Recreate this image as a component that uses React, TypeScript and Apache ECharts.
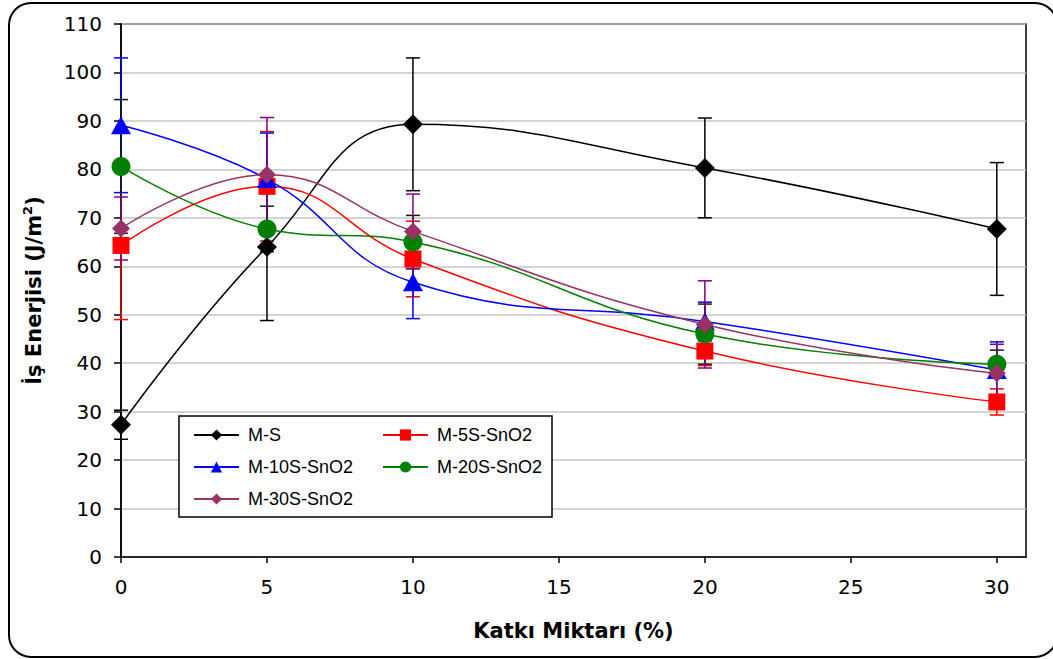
import React, { useEffect, useRef } from "react";
import * as echarts from "echarts";

const xValues = [0, 5, 10, 20, 30];
const xTicks = [0, 5, 10, 15, 20, 25, 30];

const msVals = [27.3, 64.0, 89.3, 80.3, 67.7];
const msErr = [3.0, 15.2, 13.7, 10.3, 13.7];
const m5Vals = [64.3, 76.5, 61.5, 42.5, 32.0];
const m5Err = [15.3, 11.3, 7.8, 3.0, 2.7];
const m10Vals = [89.1, 78.0, 56.7, 48.6, 38.6];
const m10Err = [13.9, 9.5, 7.5, 4.0, 5.8];
const m20Vals = [80.6, 67.7, 65.0, 46.0, 39.8];
const m20Err = [13.8, 4.7, 5.5, 6.2, 2.9];
const m30Vals = [67.8, 78.9, 67.2, 48.0, 37.9];
const m30Err = [6.5, 11.8, 7.7, 9.0, 6.0];

const seriesDefs = [
  { name: "M-S", vals: msVals, err: msErr, color: "#000000", errColor: "#000000", symbol: "diamond", size: [20, 20] },
  { name: "M-5S-SnO2", vals: m5Vals, err: m5Err, color: "#ff0000", errColor: "#ff0000", symbol: "rect", size: [17, 17] },
  { name: "M-10S-SnO2", vals: m10Vals, err: m10Err, color: "#0000ff", errColor: "#0000ff", symbol: "triangle", size: [20, 18] },
  { name: "M-20S-SnO2", vals: m20Vals, err: m20Err, color: "#008000", errColor: "#0a200a", symbol: "circle", size: [19, 19] },
  { name: "M-30S-SnO2", vals: m30Vals, err: m30Err, color: "#993366", errColor: "#800080", symbol: "diamond", size: [18, 18] },
];

const AXIS_FONT = "DejaVu Sans";

export default function App() {
  const ref = useRef<HTMLDivElement>(null);
  useEffect(() => {
    if (!ref.current) return;
    const chart = echarts.init(ref.current, undefined, { renderer: "svg" });

    const lineSeries: any[] = seriesDefs.map((s) => ({
      name: s.name,
      type: "line",
      smooth: 0.45,
      data: xValues.map((x, i) => [x, s.vals[i]]),
      symbol: s.symbol,
      symbolSize: s.size,
      lineStyle: { color: s.color, width: 1.5 },
      itemStyle: { color: s.color },
      z: 3,
    }));

    const errSeries: any[] = seriesDefs.map((s) => ({
      name: s.name + "-err",
      type: "custom",
      data: xValues.map((x, i) => [x, s.vals[i] - s.err[i], s.vals[i] + s.err[i]]),
      encode: { x: 0, y: [1, 2] },
      z: 2,
      silent: true,
      renderItem: (params: any, api: any) => {
        const x = api.value(0);
        const lo = api.coord([x, api.value(1)]);
        const hi = api.coord([x, api.value(2)]);
        const hw = 7;
        const st = { stroke: s.errColor, lineWidth: 1.5 };
        return {
          type: "group",
          children: [
            { type: "line", shape: { x1: lo[0], y1: lo[1], x2: hi[0], y2: hi[1] }, style: st },
            { type: "line", shape: { x1: lo[0] - hw, y1: lo[1], x2: lo[0] + hw, y2: lo[1] }, style: st },
            { type: "line", shape: { x1: hi[0] - hw, y1: hi[1], x2: hi[0] + hw, y2: hi[1] }, style: st },
          ],
        };
      },
    }));

    const legendCommon = {
      orient: "vertical",
      padding: 0,
      itemWidth: 45,
      itemHeight: 14,
      itemGap: 14,
      z: 8,
      textStyle: { fontFamily: "Liberation Sans", fontSize: 18, color: "#000", padding: [0, 0, 0, 4] },
    };

    chart.setOption({
      animation: false,
      backgroundColor: "#ffffff",
      grid: {
        left: 121,
        right: 27,
        top: 24,
        bottom: 102,
        show: true,
        borderColor: "#000",
        borderWidth: 1.5,
        backgroundColor: "transparent",
      },
      xAxis: {
        type: "value",
        min: 0,
        max: 31,
        interval: 5,
        name: "Katkı Miktarı (%)",
        nameLocation: "middle",
        nameGap: 63,
        nameTextStyle: { fontFamily: AXIS_FONT, fontSize: 21, fontWeight: "bold", color: "#000" },
        axisLine: { lineStyle: { color: "#000", width: 1.5 } },
        axisTick: { show: true, length: 6, lineStyle: { color: "#000", width: 1.5 }, customValues: xTicks },
        axisLabel: {
          customValues: xTicks,
          margin: 20,
          fontFamily: AXIS_FONT,
          fontSize: 20,
          color: "#000",
          formatter: (v: number) => (v > 30 ? "" : String(v)),
        },
        splitLine: { show: false },
      },
      yAxis: {
        type: "value",
        min: 0,
        max: 110,
        interval: 10,
        name: "{a|İş Enerjisi (J/m}{s|2}{a|)}",
        nameLocation: "middle",
        nameRotate: 90,
        nameGap: 74,
        nameTextStyle: {
          rich: {
            a: { fontFamily: AXIS_FONT, fontSize: 21, fontWeight: "bold", color: "#000", lineHeight: 26 },
            s: { fontFamily: AXIS_FONT, fontSize: 13, fontWeight: "bold", color: "#000", verticalAlign: "top", lineHeight: 26 },
          },
        },
        axisLine: { show: true, lineStyle: { color: "#000", width: 1.5 } },
        axisTick: { show: true, length: 7, lineStyle: { color: "#000", width: 1.5 } },
        axisLabel: { margin: 19, fontFamily: AXIS_FONT, fontSize: 20, color: "#000" },
        splitLine: { show: true, lineStyle: { color: "#c4c4c4", width: 1.5 } },
      },
      legend: [
        { ...legendCommon, left: 193, top: 426, data: ["M-S", "M-10S-SnO2", "M-30S-SnO2"] },
        { ...legendCommon, left: 382, top: 426, data: ["M-5S-SnO2", "M-20S-SnO2"] },
      ],
      graphic: [
        {
          type: "rect",
          shape: { x: 179, y: 416, width: 373, height: 101 },
          style: { fill: "#fff", stroke: "#000", lineWidth: 1.5 },
          z: 5,
          silent: true,
        },
        {
          type: "rect",
          shape: { x: 9, y: 3, width: 1048, height: 654, r: 22 },
          style: { fill: "none", stroke: "#000", lineWidth: 2 },
          z: 10,
          silent: true,
        },
      ],
      series: [...errSeries, ...lineSeries],
    });

    return () => chart.dispose();
  }, []);

  return (
    <div
      ref={ref}
      style={{ position: "fixed", left: 0, top: 0, width: 1053, height: 659, background: "#fff" }}
    />
  );
}
